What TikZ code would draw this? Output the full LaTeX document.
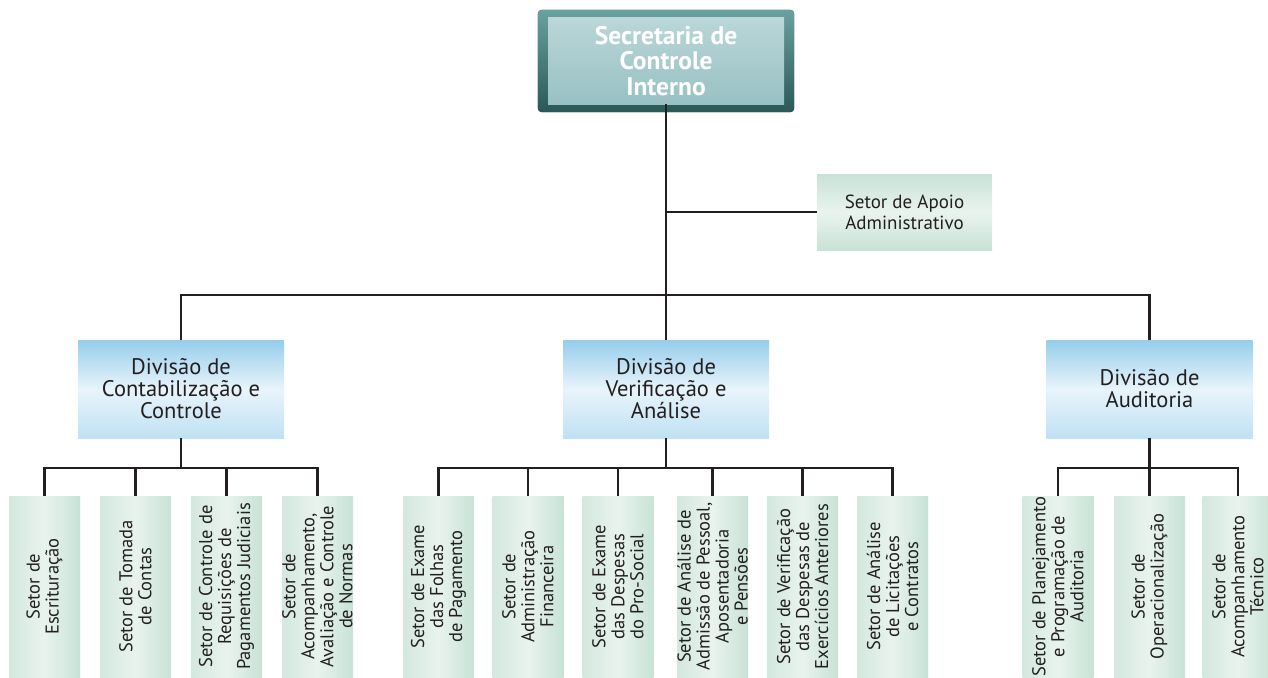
\documentclass[tikz,border=0pt]{standalone}
\usepackage{fontspec}
\setmainfont{PT Sans}
\usepackage{xcolor}
\definecolor{lineblack}{RGB}{35, 31, 32}
\definecolor{tealdark}{RGB}{42, 88, 87}
\definecolor{teallight}{RGB}{104, 162, 160}
\definecolor{panelhi}{RGB}{186, 214, 216}
\definecolor{panello}{RGB}{152, 193, 195}
\definecolor{divblue}{RGB}{150, 205, 236}
\definecolor{divpale}{RGB}{232, 244, 251}
\definecolor{setorgreen}{RGB}{200, 226, 214}
\definecolor{setorpale}{RGB}{233, 243, 238}
\usetikzlibrary{positioning, calc, backgrounds}

\begin{document}
\begin{tikzpicture}[
    x=1pt, y=-1pt,
    link/.style={draw=lineblack, line width=2.3pt},
    topbox/.style={rectangle, top color=panelhi, bottom color=panello, text=white, inner sep=0pt,
        minimum width=236pt, minimum height=86pt, align=center,
        font=\fontsize{25.5}{25.5}\selectfont\bfseries},
    divbox/.style={rectangle, top color=divblue, bottom color=divblue!60, middle color=divpale,
        inner sep=0pt, minimum width=206pt, minimum height=98pt, align=center,
        font=\fontsize{22.5}{22}\selectfont, text=lineblack},
    apoiobox/.style={rectangle, top color=setorgreen, bottom color=setorgreen, middle color=setorpale,
        inner sep=0pt, minimum width=175pt, minimum height=76pt, align=center,
        font=\fontsize{19}{21}\selectfont, text=lineblack},
    setorbox/.style={rectangle, rotate=90, left color=setorgreen!80, right color=setorgreen,
        middle color=setorpale, inner sep=0pt, minimum width=181pt, minimum height=71pt,
        align=center, font=\fontsize{18.5}{19}\selectfont, text=lineblack}
]
    \useasboundingbox (0,0) rectangle (1268,677);

    % Secretaria
    \node[topbox] (sci) at (666,61) {Secretaria de\\Controle\\Interno};
    \begin{scope}[on background layer]
        \fill[rounded corners=4pt, top color=teallight, bottom color=tealdark]
            ($(sci.north west)+(-10,-8)$) rectangle ($(sci.south east)+(10,8)$);
    \end{scope}

    \node[apoiobox] (apoio) at (904.5,212) {Setor de Apoio\\Administrativo};

    % Divisions
    \node[divbox] (dcc) at (181,389) {Divisão de\\Contabilização e\\Controle};
    \node[divbox] (dva) at (666,389) {Divisão de\\Verificação e\\Análise};
    \node[divbox] (dau) at (1149.5,389) {Divisão de\\Auditoria};

    \coordinate (bus) at (666,295);
    \draw[link] (sci.south) -- (bus);
    \draw[link] (sci.south |- apoio.west) -- (apoio.west);
    \draw[link] (dcc.north) |- (bus) -| (dau.north);
    \draw[link] (bus) -- (dva.north);

    % Setores da Contabilizacao
    \node[setorbox] (cc1) at (44.5,586.5) {Setor de\\Escrituração};
    \node[setorbox] (cc2) at (135.5,586.5) {Setor de Tomada\\de Contas};
    \node[setorbox] (cc3) at (226.5,586.5) {Setor de Controle de\\Requisições de\\Pagamentos Judiciais};
    \node[setorbox] (cc4) at (317.5,586.5) {Setor de\\Acompanhamento,\\Avaliação e Controle\\de Normas};

    % Setores da Verificacao
    \node[setorbox] (va1) at (438.5,586.5) {Setor de Exame\\das Folhas\\de Pagamento};
    \node[setorbox] (va2) at (528,586.5) {Setor de\\Administração\\Financeira};
    \node[setorbox] (va3) at (618,586.5) {Setor de Exame\\das Despesas\\do Pro-Social};
    \node[setorbox] (va4) at (712.5,586.5) {Setor de Análise de\\Admissão de Pessoal,\\Aposentadoria\\e Pensões};
    \node[setorbox] (va5) at (802.5,586.5) {Setor de Verificação\\das Despesas de\\Exercícios Anteriores};
    \node[setorbox] (va6) at (892.5,586.5) {Setor de Análise\\de Licitações\\e Contratos};

    % Setores da Auditoria
    \node[setorbox] (au1) at (1058,586.5) {Setor de Planejamento\\e Programação de\\Auditoria};
    \node[setorbox] (au2) at (1149.5,586.5) {Setor de\\Operacionalização};
    \node[setorbox] (au3) at (1238,586.5) {Setor de\\Acompanhamento\\Técnico};

    \coordinate (ccbus) at (181,468);
    \coordinate (vabus) at (666,468);
    \coordinate (aubus) at (1149.5,468);

    \draw[link] (dcc.south) -- (ccbus);
    \draw[link] (cc1.east) |- (ccbus) -| (cc4.east);
    \foreach \s in {cc2, cc3}
        \draw[link] (\s.east) -- (\s.east |- ccbus);

    \draw[link] (dva.south) -- (vabus);
    \draw[link] (va1.east) |- (vabus) -| (va6.east);
    \foreach \s in {va2, va3, va4, va5}
        \draw[link] (\s.east) -- (\s.east |- vabus);

    \draw[link] (dau.south) -- (aubus);
    \draw[link] (au1.east) |- (aubus) -| (au3.east);
    \draw[link] (au2.east) -- (aubus);
\end{tikzpicture}
\end{document}
